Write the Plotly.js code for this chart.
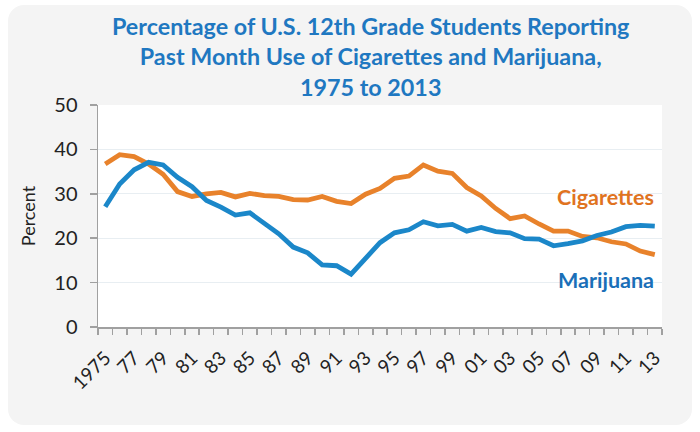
<!DOCTYPE html>
<html>
<head>
<meta charset="utf-8">
<script src="https://cdn.plot.ly/plotly-3.0.1.min.js"></script>
<style>
  html, body { margin: 0; padding: 0; background: #ffffff; }
  #wrap { position: relative; width: 700px; height: 432px; background: #ffffff; }
  #box { position: absolute; left: 8px; top: 5px; width: 684px; height: 420px; border-radius: 16px; background: #f4f4f4; }
  #chart { position: absolute; left: 0; top: 0; width: 700px; height: 432px; }
</style>
</head>
<body>
<div id="wrap"><div id="box"></div><div id="chart"></div></div>
<script>
const years = [1975,1976,1977,1978,1979,1980,1981,1982,1983,1984,1985,1986,1987,1988,1989,1990,1991,1992,1993,1994,1995,1996,1997,1998,1999,2000,2001,2002,2003,2004,2005,2006,2007,2008,2009,2010,2011,2012,2013];
const cigarettes = [36.7,38.8,38.4,36.7,34.4,30.5,29.4,30.0,30.3,29.3,30.1,29.6,29.4,28.7,28.6,29.4,28.3,27.8,29.9,31.2,33.5,34.0,36.5,35.1,34.6,31.4,29.5,26.7,24.4,25.0,23.2,21.6,21.6,20.4,20.1,19.2,18.7,17.1,16.3];
const marijuana = [27.1,32.2,35.4,37.1,36.5,33.7,31.6,28.5,27.0,25.2,25.7,23.4,21.0,18.0,16.7,14.0,13.8,11.9,15.5,19.0,21.2,21.9,23.7,22.8,23.1,21.6,22.4,21.5,21.2,19.9,19.8,18.3,18.8,19.4,20.6,21.4,22.6,22.9,22.7];
const tickYears = [1975,1977,1979,1981,1983,1985,1987,1989,1991,1993,1995,1997,1999,2001,2003,2005,2007,2009,2011,2013];
const tickLabels = ["1975","77","79","81","83","85","87","89","91","93","95","97","99","01","03","05","07","09","11","13"];
const yTicks = [0,10,20,30,40,50];

const orange = "#e8822b";
const blue = "#1b87c9";
const fontFam = "Lato, 'Open Sans', sans-serif";

const traces = [
  {x: years, y: cigarettes, type: "scatter", mode: "lines", name: "Cigarettes",
   line: {color: orange, width: 4.8}, hoverinfo: "skip"},
  {x: years, y: marijuana, type: "scatter", mode: "lines", name: "Marijuana",
   line: {color: blue, width: 4.8}, hoverinfo: "skip"}
];

const layout = {
  width: 700, height: 432,
  paper_bgcolor: "rgba(0,0,0,0)",
  plot_bgcolor: "#ffffff",
  margin: {l: 98, r: 38, t: 105, b: 105},
  showlegend: false,
  font: {family: fontFam, color: "#222"},
  xaxis: {
    range: [1974.5, 2013.5],
    tickmode: "array", tickvals: tickYears, ticktext: tickLabels,
    tickangle: -45, ticks: "",
    ticklabelstandoff: 11,
    tickfont: {size: 19, color: "#222"},
    showgrid: false, zeroline: false,
    showline: true, linecolor: "#a0a0a0", linewidth: 1.5,
    minor: {tickmode: "linear", tick0: 1974.5, dtick: 1, ticks: "outside", ticklen: 6, tickcolor: "#a0a0a0", tickwidth: 1.5, showgrid: false}
  },
  yaxis: {
    range: [0, 50],
    tickmode: "array", tickvals: yTicks,
    ticks: "outside", ticklen: 7, tickcolor: "#a0a0a0", tickwidth: 1.5,
    ticklabelstandoff: 8,
    tickfont: {size: 20, color: "#222"},
    showgrid: true, gridcolor: "#e8eef2", gridwidth: 1,
    zeroline: false,
    showline: true, linecolor: "#a0a0a0", linewidth: 1.5,
    title: {text: "Percent", font: {size: 18, color: "#222"}, standoff: 14}
  },
  annotations: [
    {text: "<b>Percentage of U.S. 12th Grade Students Reporting<br>Past Month Use of Cigarettes and Marijuana,<br>1975 to 2013</b>",
     xref: "paper", yref: "paper", x: 0.484, y: 1.43, xanchor: "center", yanchor: "top", showarrow: false,
     font: {family: fontFam, size: 23.3, color: "#1f78c1"}},
    {text: "<b>Cigarettes</b>", xref: "paper", yref: "paper", x: 0.899, y: 0.586, xanchor: "center", yanchor: "middle", showarrow: false,
     font: {family: fontFam, size: 21.5, color: "#e0731f"}},
    {text: "<b>Marijuana</b>", xref: "paper", yref: "paper", x: 0.901, y: 0.212, xanchor: "center", yanchor: "middle", showarrow: false,
     font: {family: fontFam, size: 21.5, color: "#1a6fb8"}}
  ]
};

Plotly.newPlot("chart", traces, layout, {displayModeBar: false, staticPlot: true});
</script>
</body>
</html>
